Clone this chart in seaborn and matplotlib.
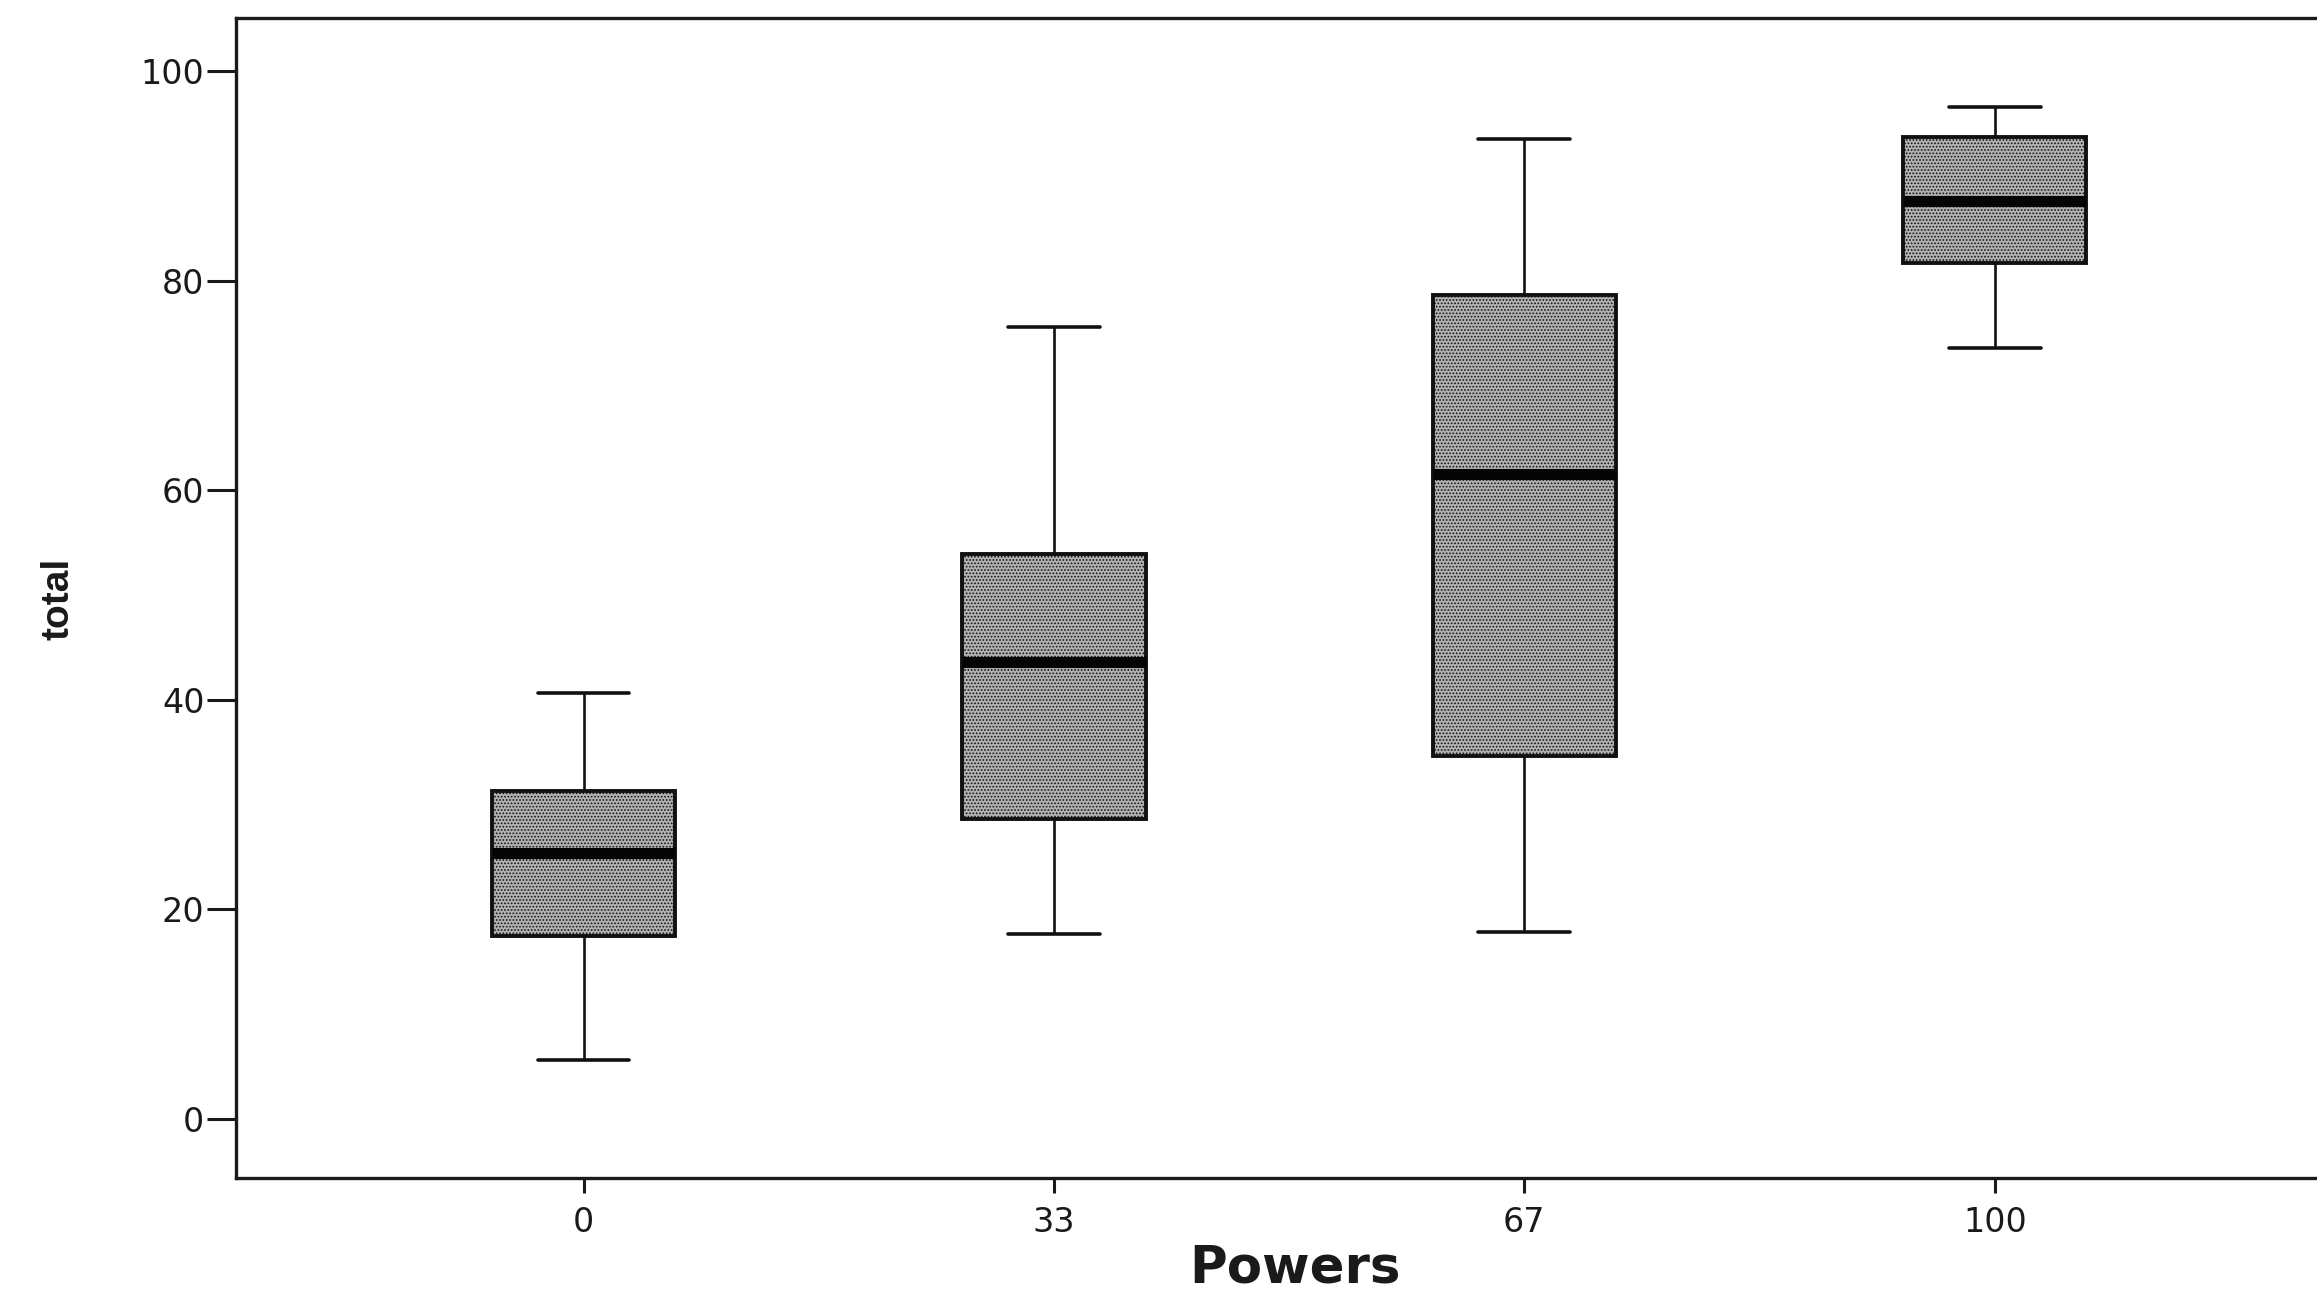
import numpy as np
import pandas as pd
import matplotlib
matplotlib.use("Agg")
import matplotlib.pyplot as plt
import seaborn as sns

# Data (five-number summary per group)
powers = ["0", "33", "67", "100"]
whisker_low = [5.6, 17.6, 17.8, 73.6]
q1 = [17.5, 28.6, 34.6, 81.7]
median = [25.4, 43.6, 61.5, 87.6]
q3 = [31.3, 53.9, 78.6, 93.7]
whisker_high = [40.6, 75.6, 93.5, 96.6]
y_ticks = [0, 20, 40, 60, 80, 100]

rows = []
for i, p in enumerate(powers):
    for v in (whisker_low[i], q1[i], median[i], q3[i], whisker_high[i]):
        rows.append({"Powers": p, "total": v})
df = pd.DataFrame(rows)

sns.set_style("ticks")
plt.rcParams["font.family"] = ["DejaVu Sans"]
plt.rcParams["hatch.linewidth"] = 0.8

fig = plt.figure(figsize=(23.17, 13.08), dpi=100)
ax = fig.add_axes([0.102, 0.0994, 0.898, 0.887])

sns.boxplot(
    data=df, x="Powers", y="total", order=powers, ax=ax,
    width=0.39, color="#b2b2b2", saturation=1, linecolor="#111111",
    linewidth=2.8, whis=1.5,
    medianprops=dict(linewidth=8, color="#050505"),
    whiskerprops=dict(linewidth=1.9),
    capprops=dict(linewidth=2.6),
)
for patch in ax.patches:
    patch.set_hatch(".....")

ax.set_xlim(-0.738, 3.685)
ax.set_ylim(-5.64, 105.08)
ax.set_yticks(y_ticks)
ax.set_yticklabels([str(t) for t in y_ticks])

for side in ["left", "top", "bottom"]:
    ax.spines[side].set_linewidth(2.4)
    ax.spines[side].set_color("#1a1a1a")
ax.spines["right"].set_visible(False)

ax.tick_params(axis="y", length=21, width=2.2, pad=2, labelsize=24, colors="#1a1a1a")
ax.tick_params(axis="x", length=11, width=2.2, pad=9, labelsize=24, colors="#1a1a1a")

ax.set_xlabel("Powers", fontsize=37, fontweight="bold", color="#1a1a1a", va="center")
ax.xaxis.set_label_coords(0.509, -0.0776)
ax.set_ylabel("total", fontsize=28, fontweight="bold", family=["Liberation Sans", "DejaVu Sans"],
              color="#1a1a1a", va="center")
ax.yaxis.set_label_coords(-0.0856, 0.499)

fig.savefig("out.png", dpi=100)
